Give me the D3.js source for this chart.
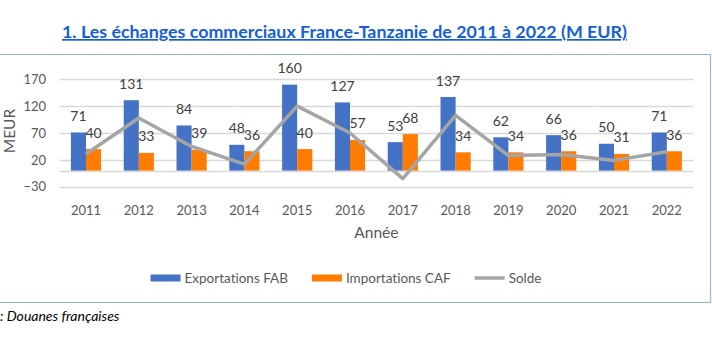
<!DOCTYPE html>
<html>
<head>
<meta charset="utf-8">
<script src="https://cdn.jsdelivr.net/npm/d3@7"></script>
<style>
  body { margin: 0; background: #fff; }
  svg { display: block; font-family: Lato, "Open Sans", sans-serif; font-variant-ligatures: none; }
</style>
</head>
<body>
<div id="chart"></div>
<script>
const years = ["2011", "2012", "2013", "2014", "2015", "2016", "2017", "2018", "2019", "2020", "2021", "2022"];
const exportations = [71, 131, 84, 48, 160, 127, 53, 137, 62, 66, 50, 71];
const importations = [40, 33, 39, 36, 40, 57, 68, 34, 34, 36, 31, 36];
const solde = [31, 98, 45, 12, 120, 70, -15, 103, 28, 30, 19, 35];
const yTicks = [-30, 20, 70, 120, 170];

const W = 712, H = 349;
const plot = { left: 59.6, right: 693.2, top: 79.3, bottom: 186.7 };
const colors = { exp: "#4472C4", imp: "#FF7C00", solde: "#A5A5A5" };

const svg = d3.select("#chart").append("svg")
    .attr("width", W)
    .attr("height", H);

svg.append("rect").attr("width", W).attr("height", H).attr("fill", "#fff");

// title
svg.append("text")
    .attr("x", 62)
    .attr("y", 38)
    .attr("textLength", 565)
    .attr("lengthAdjust", "spacingAndGlyphs")
    .style("font-size", "17px")
    .style("font-weight", "bold")
    .style("fill", "#1560D8")
    .style("text-decoration", "underline")
    .text("1. Les échanges commerciaux France-Tanzanie de 2011 à 2022 (M EUR)");

// chart frame
svg.append("path")
    .attr("d", `M0,54.5 H710.5 V302.5 H-1`)
    .attr("fill", "none")
    .attr("stroke", "#9DB3DD")
    .attr("stroke-width", 1.2);

const x = d3.scaleBand()
    .domain(years)
    .range([plot.left, plot.right]);

const y = d3.scaleLinear()
    .domain([-30, 170])
    .range([plot.bottom, plot.top]);

const barW = x.bandwidth() / 3.5;

// gridlines
svg.append("g")
    .selectAll("line")
    .data(yTicks.concat([0]))
    .join("line")
    .attr("x1", plot.left)
    .attr("x2", plot.right)
    .attr("y1", d => Math.round(y(d)) + 0.5)
    .attr("y2", d => Math.round(y(d)) + 0.5)
    .attr("stroke", "#D9D9D9")
    .attr("stroke-width", 1.3);

// y axis
const yAxis = d3.axisLeft(y).tickValues(yTicks).tickSize(0).tickPadding(0);
svg.append("g")
    .attr("transform", `translate(46, 0)`)
    .call(yAxis)
    .call(g => g.select(".domain").remove())
    .selectAll("text")
    .style("font-size", "13px")
    .style("font-family", "Lato, sans-serif")
    .attr("fill", "#595959");

// x axis labels
const xAxis = d3.axisBottom(x).tickSize(0).tickPadding(0);
svg.append("g")
    .attr("transform", `translate(0, 206)`)
    .call(xAxis)
    .call(g => g.select(".domain").remove())
    .selectAll("text")
    .style("font-size", "13px")
    .style("font-family", "Lato, sans-serif")
    .attr("fill", "#595959");

// axis titles
svg.append("text")
    .attr("x", (plot.left + plot.right) / 2)
    .attr("y", 238)
    .attr("text-anchor", "middle")
    .style("font-size", "15.5px")
    .style("fill", "#595959")
    .text("Année");

svg.append("text")
    .attr("transform", `translate(15, ${(plot.top + plot.bottom) / 2 - 2}) rotate(-90)`)
    .attr("text-anchor", "middle")
    .style("font-size", "15.5px")
    .style("fill", "#595959")
    .text("MEUR");

// bars
svg.append("g")
    .selectAll("rect")
    .data(years)
    .join("rect")
    .attr("x", d => x(d) + x.bandwidth() / 2 - barW)
    .attr("width", barW)
    .attr("y", (d, i) => y(exportations[i]))
    .attr("height", (d, i) => y(0) - y(exportations[i]))
    .attr("fill", colors.exp);

svg.append("g")
    .selectAll("rect")
    .data(years)
    .join("rect")
    .attr("x", d => x(d) + x.bandwidth() / 2)
    .attr("width", barW)
    .attr("y", (d, i) => y(importations[i]))
    .attr("height", (d, i) => y(0) - y(importations[i]))
    .attr("fill", colors.imp);

// solde line
const line = d3.line()
    .x((d, i) => x(years[i]) + x.bandwidth() / 2)
    .y(d => y(d));

svg.append("path")
    .datum(solde)
    .attr("fill", "none")
    .attr("stroke", colors.solde)
    .attr("stroke-width", 3.5)
    .attr("stroke-linejoin", "round")
    .attr("d", line);

// data labels
function AddLabels(values, offset) {
    svg.append("g")
        .selectAll("text")
        .data(values)
        .join("text")
        .attr("x", (d, i) => x(years[i]) + x.bandwidth() / 2 + offset)
        .attr("y", d => y(d) - 11.5)
        .attr("text-anchor", "middle")
        .style("font-size", "14px")
        .style("fill", "#404040")
        .text(d => d);
}
AddLabels(exportations, -barW / 2);
AddLabels(importations, barW / 2);

// legend
const legendItems = [
    { label: "Exportations FAB", color: colors.exp, type: "rect" },
    { label: "Importations CAF", color: colors.imp, type: "rect" },
    { label: "Solde", color: colors.solde, type: "line" }
];
const legend = svg.append("g");
let lx = 0;
legendItems.forEach(item => {
    const g = legend.append("g").attr("transform", `translate(${lx}, 0)`);
    if (item.type === "rect") {
        g.append("rect").attr("x", 0).attr("y", -3.5).attr("width", 30).attr("height", 7).attr("fill", item.color);
    } else {
        g.append("line").attr("x1", 0).attr("x2", 30).attr("y1", 0).attr("y2", 0)
            .attr("stroke", item.color).attr("stroke-width", 3.5);
    }
    const t = g.append("text")
        .attr("x", 34)
        .attr("y", 5)
        .style("font-size", "13.5px")
        .style("fill", "#595959")
        .text(item.label);
    lx += 34 + t.node().getComputedTextLength() + 24;
});
const legendW = lx - 24;
legend.attr("transform", `translate(${346 - legendW / 2}, 278)`);

// source
svg.append("text")
    .attr("x", 0)
    .attr("y", 321)
    .style("font-size", "14px")
    .style("font-style", "italic")
    .style("fill", "#000")
    .text(": Douanes françaises");
</script>
</body>
</html>
